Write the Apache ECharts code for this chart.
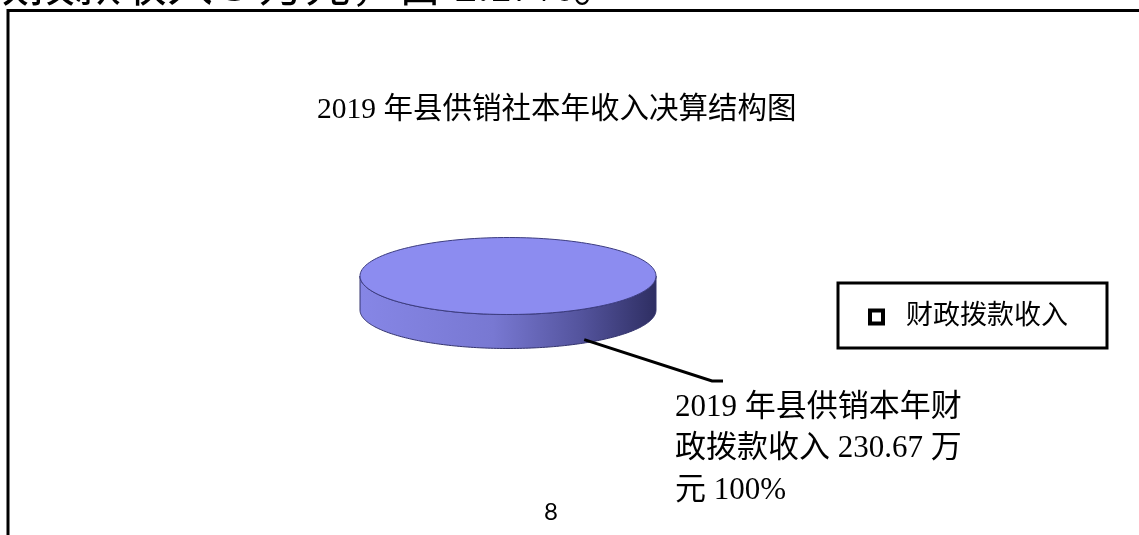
<!DOCTYPE html>
<html>
<head>
<meta charset="utf-8">
<title>2019 年县供销社本年收入决算结构图</title>
<script src="https://cdn.jsdelivr.net/npm/echarts@6/dist/echarts.min.js"></script>
<style>
  html, body { margin: 0; padding: 0; background: #fff; }
  #chart { width: 1139px; height: 535px; }
</style>
</head>
<body>
<div id="chart"></div>
<script>
const categories = ['财政拨款收入'];
const incomeValues = [230.67];
const titleText = '2019 年县供销社本年收入决算结构图';
const headText = '政拨款收入 5 万元，占 2.17%。';
const pageNo = '8';

const serif = "'Liberation Serif', 'Noto Sans CJK SC', serif";
const total = incomeValues.reduce((a, b) => a + b, 0);

// flat ellipse + front wall, looks like the excel 3d pie
const pie = { cx: 508, cy: 276, rx: 148, ry: 38.5, depth: 34, midAngle: 59 };

function ellipsePt(t, dy) {
	return [pie.cx + pie.rx * Math.cos(t), pie.cy + pie.ry * Math.sin(t) + (dy || 0)];
}

function renderPie(params, api) {
	const idx = params.dataIndex;
	const base = pie.midAngle * Math.PI / 180 - Math.PI * incomeValues[0] / total;
	let start = base;
	for (let i = 0; i < idx; i++) start += incomeValues[i] / total * Math.PI * 2;
	const share = api.value(0) / total;
	const end = start + share * Math.PI * 2;
	const mid = (start + end) / 2;
	const steps = 160;

	// top face
	const top = [];
	for (let i = 0; i <= steps; i++) top.push(ellipsePt(start + (end - start) * i / steps));
	if (share < 0.9999) top.push([pie.cx, pie.cy]);

	// front wall, only the part facing us (0..PI)
	const children = [];
	for (let k = -1; k <= 1; k++) {
		const lo = Math.max(start, k * 2 * Math.PI), hi = Math.min(end, k * 2 * Math.PI + Math.PI);
		if (hi <= lo) continue;
		const up = [], down = [];
		for (let i = 0; i <= steps; i++) {
			const t = lo + (hi - lo) * i / steps;
			up.push(ellipsePt(t));
			down.unshift(ellipsePt(t, pie.depth));
		}
		children.push({
			type: 'polygon',
			shape: { points: up.concat(down) },
			style: {
				fill: new echarts.graphic.LinearGradient(0, 0, 1, 0, [
					{ offset: 0, color: '#8686e6' },
					{ offset: 0.45, color: '#7878d2' },
					{ offset: 0.75, color: '#53539c' },
					{ offset: 1, color: '#2e2e62' }
				]),
				stroke: '#34346e',
				lineWidth: 1
			}
		});
	}
	children.push({
		type: 'polygon',
		shape: { points: top },
		style: { fill: '#8c8cf0', stroke: '#3c3c80', lineWidth: 1 }
	});

	// leader line + label
	const p0 = ellipsePt(mid, pie.depth * 0.9);
	const label = '2019 年县供销本年财\n政拨款收入 ' + api.value(0) + ' 万\n元 ' +
		Math.round(share * 100) + '%';
	children.push({
		type: 'polyline',
		shape: { points: [p0, [712, 381], [723, 381]] },
		style: { stroke: '#000', lineWidth: 3, fill: null }
	});
	children.push({
		type: 'text',
		style: {
			text: label,
			x: 675,
			y: 387,
			fontSize: 31,
			fontFamily: serif,
			lineHeight: 41.5,
			fill: '#000',
			textVerticalAlign: 'top'
		}
	});
	return { type: 'group', children: children };
}

var myChart = echarts.init(document.getElementById('chart'), null, { renderer: 'canvas' });
var option = {
	backgroundColor: '#fff',
	animation: false,
	title: {
		text: titleText,
		left: 317,
		top: 95,
		padding: 0,
		textStyle: { fontSize: 29.5, fontWeight: 'normal', fontFamily: serif, color: '#000' }
	},
	legend: {
		data: [{ name: categories[0], icon: 'rect' }],
		left: 838,
		top: 283,
		orient: 'vertical',
		padding: [19, 39, 16, 30],
		itemWidth: 13,
		itemHeight: 13,
		borderColor: '#000',
		borderWidth: 3,
		backgroundColor: '#fff',
		selectedMode: false,
		itemStyle: { color: '#fff', borderColor: '#000', borderWidth: 4 },
		textStyle: { fontSize: 27, lineHeight: 30, fontFamily: serif, color: '#000', padding: [0, 0, 0, 18] }
	},
	graphic: [
		{
			type: 'text',
			left: -17,
			top: -34,
			style: { text: headText, fontSize: 46, fontFamily: serif, fill: '#000' }
		},
		{
			type: 'polyline',
			shape: { points: [[8, 535], [8, 10.5], [1145, 10.5]] },
			style: { stroke: '#000', lineWidth: 3, fill: null }
		},
		{
			type: 'text',
			left: 544,
			top: 500,
			style: { text: pageNo, fontSize: 24, fontFamily: 'Lato, sans-serif', fill: '#000' }
		}
	],
	series: [
		{
			name: categories[0],
			type: 'custom',
			coordinateSystem: 'none',
			renderItem: renderPie,
			data: incomeValues.map((v, i) => ({ name: categories[i], value: [v] }))
		}
	]
};
option && myChart.setOption(option);
</script>
</body>
</html>
